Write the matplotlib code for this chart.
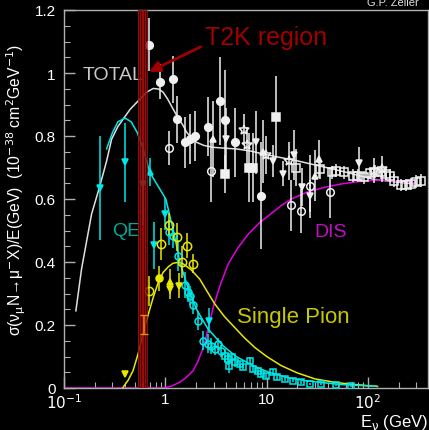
import numpy as np
import matplotlib.pyplot as plt
from matplotlib.ticker import MultipleLocator, FixedLocator, NullFormatter

plt.rcParams['font.family'] = ['Liberation Sans', 'DejaVu Sans']
plt.rcParams['mathtext.fontset'] = 'dejavusans'

# ---- theory curves (E in GeV, sigma/E) ----
tot_x = [0.131, 0.149, 0.187, 0.226, 0.263, 0.295, 0.34, 0.384, 0.45, 0.56, 0.66, 0.76, 0.86, 0.95,
         1.05, 1.19, 1.35, 1.5, 1.62, 1.8, 2.03, 2.4, 2.96, 4.0, 5.0, 7.0, 9.2, 13.0, 19.5, 30.0,
         45.0, 70.0, 111.0, 180.0, 278.0]
tot_y = [0.245, 0.378, 0.552, 0.642, 0.72, 0.79, 0.83, 0.854, 0.885, 0.917, 0.94, 0.951, 0.949, 0.939,
         0.918, 0.886, 0.855, 0.833, 0.812, 0.795, 0.78, 0.77, 0.764, 0.761, 0.759, 0.752, 0.743, 0.733, 0.722, 0.708,
         0.695, 0.68, 0.663, 0.655, 0.648]

qe_x = [0.263, 0.3, 0.34, 0.4, 0.46, 0.53, 0.605, 0.7, 0.85, 1.01, 1.2, 1.39, 1.7, 2.03, 2.6,
        3.7, 5.0, 7.3, 10.5, 15.5, 22.0, 33.0, 55.0, 95.0, 120.0]
qe_y = [0.759, 0.81, 0.845, 0.857, 0.845, 0.81, 0.759, 0.685, 0.64, 0.6, 0.5, 0.4, 0.31, 0.25, 0.19,
        0.134, 0.1, 0.071, 0.05, 0.034, 0.025, 0.018, 0.011, 0.007, 0.006]

pi_x = [0.378, 0.43, 0.48, 0.54, 0.6, 0.68, 0.76, 0.85, 0.95, 1.07, 1.19, 1.35, 1.5, 1.8, 2.18,
        2.6, 3.07, 3.8, 4.8, 6.0, 7.6, 10.0, 13.9, 20.0, 29.8, 45.0, 63.0, 95.0, 124.0]
pi_y = [0.0, 0.025, 0.055, 0.11, 0.171, 0.235, 0.288, 0.335, 0.367, 0.385, 0.396, 0.399, 0.394, 0.375, 0.346,
        0.305, 0.267, 0.228, 0.193, 0.16, 0.129, 0.1, 0.071, 0.048, 0.029, 0.019, 0.013, 0.008, 0.005]

dis_x = [0.1, 0.5, 0.95, 1.15, 1.38, 1.6, 1.88, 2.1, 2.37, 2.65, 2.96, 3.5, 4.17, 5.2, 6.6,
         8.5, 11.2, 14.0, 17.5, 25.0, 37.0, 55.0, 79.0, 135.0, 213.0, 286.0]
dis_y = [0.0, 0.0, 0.0, 0.006, 0.018, 0.033, 0.055, 0.085, 0.129, 0.19, 0.255, 0.33, 0.394, 0.445, 0.489,
         0.525, 0.555, 0.58, 0.6, 0.622, 0.637, 0.648, 0.655, 0.661, 0.655, 0.651]

# ---- total cross-section data (white) ----
w_fc_x = [0.69, 0.88, 1.19, 1.29, 1.58, 1.74, 1.95, 2.64, 3.44, 3.92, 4.9, 8.87]
w_fc_y = [1.09, 0.972, 0.98, 0.853, 0.78, 0.79, 0.80, 0.83, 0.91, 0.851, 0.78, 0.61]
w_fc_e = [0.085, 0.055, 0.075, 0.075, 0.08, 0.08, 0.08, 0.095, 0.14, 0.16, 0.11, 0.17]

w_oc_x = [1.08, 2.79, 17.2, 22.0, 26.5, 41.7]
w_oc_y = [0.762, 0.69, 0.58, 0.563, 0.64, 0.621]
w_oc_e = [0.055, 0.1, 0.08, 0.07, 0.1, 0.08]

w_fs_x = [3.92, 6.75, 7.3, 12.3]
w_fs_y = [0.68, 0.70, 0.70, 0.86]
w_fs_e = [0.06, 0.11, 0.11, 0.13]

w_td_x = [3.94, 7.8, 11.5, 14.5, 18.5, 22.3, 27.0, 80.5]
w_td_y = [0.79, 0.78, 0.72, 0.68, 0.74, 0.637, 0.61, 0.714]
w_td_e = [0.1, 0.1, 0.05, 0.04, 0.08, 0.06, 0.05, 0.05]

w_tu_x = [2.92, 9.1, 29.7, 32.5]
w_tu_y = [0.79, 0.75, 0.674, 0.727]
w_tu_e = [0.12, 0.1, 0.08, 0.06]

w_st_x = [5.93, 6.4, 9.9, 16.6, 114.0, 137.0]
w_st_y = [0.82, 0.77, 0.74, 0.72, 0.69, 0.695]
w_st_e = [0.05, 0.06, 0.06, 0.06, 0.04, 0.04]

w_os_x = [19.6, 33.3, 44.0, 48.6, 57.8, 70.8, 79.0, 91.0, 104.0, 118.0, 135.0, 151.0, 166.0,
          182.0, 209.0, 238.0, 266.0, 298.0, 334.0]
w_os_y = [0.70, 0.695, 0.685, 0.69, 0.685, 0.674, 0.674, 0.669, 0.683, 0.687, 0.685, 0.68, 0.674,
          0.658, 0.644, 0.644, 0.648, 0.655, 0.658]
w_os_e = [0.06, 0.03, 0.02, 0.02, 0.02, 0.02, 0.02, 0.02, 0.02, 0.02, 0.02, 0.02, 0.02,
          0.02, 0.02, 0.02, 0.02, 0.02, 0.02]

# ---- QE data (cyan) ----
c_td_x = [0.226, 0.40, 0.596, 0.78, 0.99, 2.72]
c_td_y = [0.635, 0.716, 0.648, 0.453, 0.552, 0.214]
c_td_e = [0.165, 0.125, 0.13, 0.075, 0.05, 0.04]

c_tu_x = [0.703]
c_tu_y = [0.685]
c_tu_e = [0.045]

c_oc_x = [1.09, 1.18, 1.34, 1.56, 1.68, 1.77, 1.88, 2.1, 2.36, 2.66, 2.84, 3.06, 3.3, 3.56]
c_oc_y = [0.494, 0.483, 0.42, 0.327, 0.304, 0.293, 0.264, 0.214, 0.15, 0.14, 0.134, 0.124, 0.14, 0.118]
c_oc_e = [0.04, 0.04, 0.05, 0.04, 0.03, 0.03, 0.03, 0.03, 0.03, 0.03, 0.025, 0.02, 0.02, 0.02]

c_os_x = [3.86, 4.17, 4.27, 4.5, 4.87, 5.46, 5.9, 6.8, 7.35, 8.2, 8.8, 9.9, 11.5, 12.6,
          15.0, 18.2, 22.0, 26.5, 34.5, 48.6, 68.4]
c_os_y = [0.103, 0.092, 0.069, 0.097, 0.083, 0.076, 0.066, 0.087, 0.06, 0.055, 0.044, 0.039, 0.05, 0.034,
          0.029, 0.023, 0.018, 0.013, 0.013, 0.01, 0.007]
c_os_e = [0.02, 0.02, 0.02, 0.015, 0.015, 0.01, 0.01, 0.01, 0.01, 0.01, 0.01, 0.01, 0.01, 0.008,
          0.006, 0.005, 0.005, 0.004, 0.004, 0.003, 0.003]

# ---- single pion data (yellow) ----
y_oc_x = [0.69, 0.898, 1.09, 1.29, 1.47, 1.64, 1.88]
y_oc_y = [0.309, 0.457, 0.518, 0.48, 0.40, 0.452, 0.394]
y_oc_e = [0.048, 0.05, 0.037, 0.045, 0.05, 0.04, 0.03]

y_fc_x = [0.87]
y_fc_y = [0.348]
y_fc_e = [0.04]

y_tu_x = [1.11]
y_tu_y = [0.337]
y_tu_e = [0.04]

y_td_x = [0.40, 1.11, 1.37]
y_td_y = [0.044, 0.314, 0.325]
y_td_e = [0.0, 0.03, 0.04]

y_bar_x = [0.61]
y_bar_y = [0.203]
y_bar_e = [0.03]

# T2K flux region
t2k_lines = [0.532, 0.561, 0.582, 0.604, 0.627, 0.658]

WHITE = '#f0f0f0'
CYAN = '#00e8e8'
YELLOW = '#e8e800'
MAG = '#e000e0'

fig = plt.figure(figsize=(4.29, 4.31), dpi=100, facecolor='black')
ax = fig.add_axes([64 / 429, 42 / 431, 364 / 429, 378 / 431])
ax.set_facecolor('black')
ax.set_xscale('log')
ax.set_xlim(0.1, 390)
ax.set_ylim(0, 1.2)

ax.plot(tot_x, tot_y, color='#e0e0e0', lw=1.1, zorder=2)
ax.plot(dis_x, dis_y, color=MAG, lw=1.1, zorder=2)
ax.plot(pi_x, pi_y, color=YELLOW, lw=1.1, zorder=2)
ax.plot(qe_x, qe_y, color=CYAN, lw=1.1, zorder=2)


def pts(x, y, e, color, marker, filled, ms=5.0):
    ax.errorbar(x, y, yerr=e, fmt=marker, color=color, ms=ms,
                mfc=color if filled else 'none', mec=color, mew=1.1,
                elinewidth=1.1, capsize=0, zorder=3)


pts(w_fc_x, w_fc_y, w_fc_e, WHITE, 'o', True, 5.5)
pts(w_oc_x, w_oc_y, w_oc_e, WHITE, 'o', False, 5.5)
pts(w_fs_x, w_fs_y, w_fs_e, WHITE, 's', True, 5.5)
pts(w_td_x, w_td_y, w_td_e, WHITE, 'v', True, 5)
pts(w_tu_x, w_tu_y, w_tu_e, WHITE, '^', True, 5)
pts(w_st_x, w_st_y, w_st_e, WHITE, '*', False, 7)
pts(w_os_x, w_os_y, w_os_e, WHITE, 's', False, 6)

pts(c_td_x, c_td_y, c_td_e, CYAN, 'v', True, 5)
pts(c_tu_x, c_tu_y, c_tu_e, CYAN, '^', True, 5)
pts(c_oc_x, c_oc_y, c_oc_e, CYAN, 'o', False, 5)
pts(c_os_x, c_os_y, c_os_e, CYAN, 's', False, 5)

pts(y_oc_x, y_oc_y, y_oc_e, YELLOW, 'o', False, 6)
pts(y_fc_x, y_fc_y, y_fc_e, YELLOW, 'o', True, 5)
pts(y_tu_x, y_tu_y, y_tu_e, YELLOW, '^', True, 5)
pts(y_td_x, y_td_y, y_td_e, YELLOW, 'v', True, 5)

# labels on the curves
ax.text(0.153, 0.995, 'TOTAL', color='#c8c8c8', fontsize=14, ha='left', va='center', zorder=3)
ax.text(0.30, 0.50, 'QE', color='#00a898', fontsize=14, ha='left', va='center', zorder=3)
ax.text(29.7, 0.497, 'DIS', color='#c010c0', fontsize=14, ha='left', va='center', zorder=3)
ax.text(5.06, 0.227, 'Single Pion', color='#c8c800', fontsize=16, ha='left', va='center', zorder=3)

# T2K band
ax.axvspan(t2k_lines[0], t2k_lines[-1], color='#600000', alpha=0.75, lw=0, zorder=4)
for xl in t2k_lines:
    ax.axvline(xl, color='#b81010', lw=0.6, alpha=0.85, zorder=4)
# point seen through the band
ax.errorbar(y_bar_x, y_bar_y, yerr=y_bar_e, fmt='none', ecolor='#e09000',
            elinewidth=1.1, capsize=3, zorder=5)

ax.text(2.45, 1.114, 'T2K region', color='#a00000', fontsize=18, ha='left', va='center', zorder=6)
ax.annotate('', xy=(0.654, 1.0), xytext=(2.36, 1.087),
            arrowprops=dict(arrowstyle='-|>', color='#a00000', lw=2, mutation_scale=16),
            zorder=6)

# axes styling
for s in ax.spines.values():
    s.set_color('#b0b0b0')
    s.set_linewidth(1.0)
ax.yaxis.set_major_locator(FixedLocator([0, 0.2, 0.4, 0.6, 0.8, 1.0, 1.2]))
ax.set_yticklabels(['0', '0.2', '0.4', '0.6', '0.8', '1', '1.2'])
ax.yaxis.set_minor_locator(MultipleLocator(0.05))
ax.xaxis.set_major_locator(FixedLocator([0.1, 1, 10, 100]))
ax.set_xticklabels([r'$10^{-1}$', '1', '10', r'$10^{2}$'])
ax.xaxis.set_minor_formatter(NullFormatter())
ax.tick_params(which='both', direction='in', color='#b0b0b0', labelcolor='white',
               labelsize=11, top=False, right=False)
ax.tick_params(which='major', length=8, width=1.0, pad=6)
ax.tick_params(which='minor', length=4, width=0.8)
ax.tick_params(axis='x', which='major', pad=3)

fig.text(16 / 429, 1 - 190 / 431,
         'σ(ν$_{\\mathrm{\\mu}}$N→μ$^{-}$X)/E(GeV)  (10$^{-38}$ cm$^{2}$GeV$^{-1}$)',
         rotation=90, color='white', fontsize=11.3, ha='center', va='center')
fig.text(428 / 429, 4 / 431, 'E$_{\\mathrm{\\nu}}$ (GeV)', color='white', fontsize=12,
         ha='right', va='baseline')
fig.text(367 / 429, 1 - 6 / 431, 'G.P. Zeller', color='#e0e0e0', fontsize=8,
         ha='left', va='baseline')

fig.savefig('out.png', dpi=100, facecolor='black')
